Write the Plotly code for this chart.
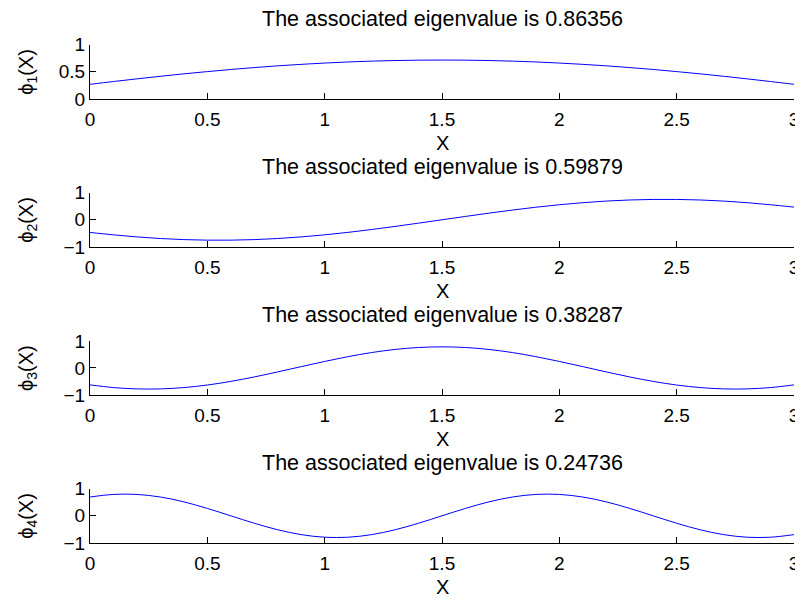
import plotly.graph_objects as go

x_vals = [round(i * 0.1, 1) for i in range(31)]

phi1 = [0.271, 0.322, 0.371, 0.418, 0.463, 0.504, 0.543, 0.578, 0.610, 0.637, 0.661,
        0.681, 0.696, 0.707, 0.714, 0.716, 0.714, 0.707, 0.696, 0.681, 0.661,
        0.637, 0.610, 0.578, 0.543, 0.504, 0.463, 0.418, 0.371, 0.322, 0.271]
phi2 = [-0.465, -0.552, -0.628, -0.687, -0.727, -0.747, -0.747, -0.727, -0.687, -0.628, -0.552,
        -0.461, -0.357, -0.243, -0.123, 0.0, 0.123, 0.243, 0.357, 0.461, 0.552,
        0.628, 0.687, 0.727, 0.747, 0.747, 0.727, 0.687, 0.628, 0.552, 0.465]
phi3 = [-0.625, -0.725, -0.774, -0.774, -0.725, -0.631, -0.497, -0.332, -0.146, 0.049, 0.241,
        0.418, 0.569, 0.684, 0.756, 0.780, 0.756, 0.684, 0.569, 0.418, 0.241,
        0.049, -0.146, -0.332, -0.497, -0.631, -0.725, -0.774, -0.774, -0.725, -0.625]
phi4 = [0.690, 0.785, 0.785, 0.690, 0.512, 0.272, 0.000, -0.272, -0.512, -0.690, -0.785,
        -0.785, -0.690, -0.512, -0.272, 0.000, 0.272, 0.512, 0.690, 0.785, 0.785,
        0.690, 0.512, 0.272, 0.000, -0.272, -0.512, -0.690, -0.785, -0.785, -0.690]

series = [phi1, phi2, phi3, phi4]
eigenvalues = ["0.86356", "0.59879", "0.38287", "0.24736"]
y_ranges = [[0, 1], [-1, 1], [-1, 1], [-1, 1]]
y_ticks = [[0, 0.5, 1], [-1, 0, 1], [-1, 0, 1], [-1, 0, 1]]
x_ticks = [0, 0.5, 1, 1.5, 2, 2.5, 3]

W, H = 803, 600
MT, MB, ML, MR = 20, 20, 82, 17
OFF = 8  # page offset of the figure
# target screen pixel top/bottom of each axes box
tops = [42.7, 192.0, 341.7, 490.7]
bottoms = [97.7, 247.0, 396.3, 545.7]
P = H - MT - MB

FONT = "Liberation Sans, Arial, Helvetica, sans-serif"
fig = go.Figure()
annotations = []
for i, ys in enumerate(series):
    n = i + 1
    xa = "x" if n == 1 else f"x{n}"
    ya = "y" if n == 1 else f"y{n}"
    fig.add_trace(go.Scatter(x=x_vals, y=ys, mode="lines", xaxis=xa, yaxis=ya,
                             line=dict(color="#0000ff", width=1, shape="spline"),
                             showlegend=False, hoverinfo="skip"))
    dom = [1 - (bottoms[i] - OFF - MT) / P, 1 - (tops[i] - OFF - MT) / P]
    axis_common = dict(showgrid=False, zeroline=False, showline=True, linecolor="black",
                       linewidth=1, ticks="inside", ticklen=6, tickcolor="black",
                       tickfont=dict(family=FONT, size=19, color="black"))
    fig.layout[f"xaxis{'' if n == 1 else n}"] = dict(
        domain=[0, 1], range=[0, 3], tickvals=x_ticks, anchor=ya, ticklabelstandoff=3,
        ticktext=[str(t) for t in x_ticks], **axis_common)
    fig.layout[f"yaxis{'' if n == 1 else n}"] = dict(
        domain=dom, range=y_ranges[i], tickvals=y_ticks[i], anchor=xa, **axis_common)
    annotations.append(dict(text=f"The associated eigenvalue is {eigenvalues[i]}",
                            xref=f"{xa} domain", yref=f"{ya} domain", x=0.5, y=1,
                            yanchor="middle", xanchor="center", yshift=26, showarrow=False,
                            font=dict(family=FONT, size=21.5, color="black")))
    annotations.append(dict(text="X", xref=f"{xa} domain", yref=f"{ya} domain", x=0.5, y=0,
                            yanchor="middle", xanchor="center", yshift=-44, showarrow=False,
                            font=dict(family=FONT, size=20, color="black")))
    annotations.append(dict(text=f"ϕ<sub>{n}</sub>(X)", xref=f"{xa} domain", yref=f"{ya} domain",
                            x=0, y=0.5, xanchor="center", yanchor="middle", xshift=-62,
                            textangle=-90, showarrow=False,
                            font=dict(family=FONT, size=20, color="black")))

fig.update_layout(width=W, height=H, margin=dict(l=ML, r=MR, t=MT, b=MB),
                  plot_bgcolor="white", paper_bgcolor="white", annotations=annotations)
fig.write_html("out.html")
